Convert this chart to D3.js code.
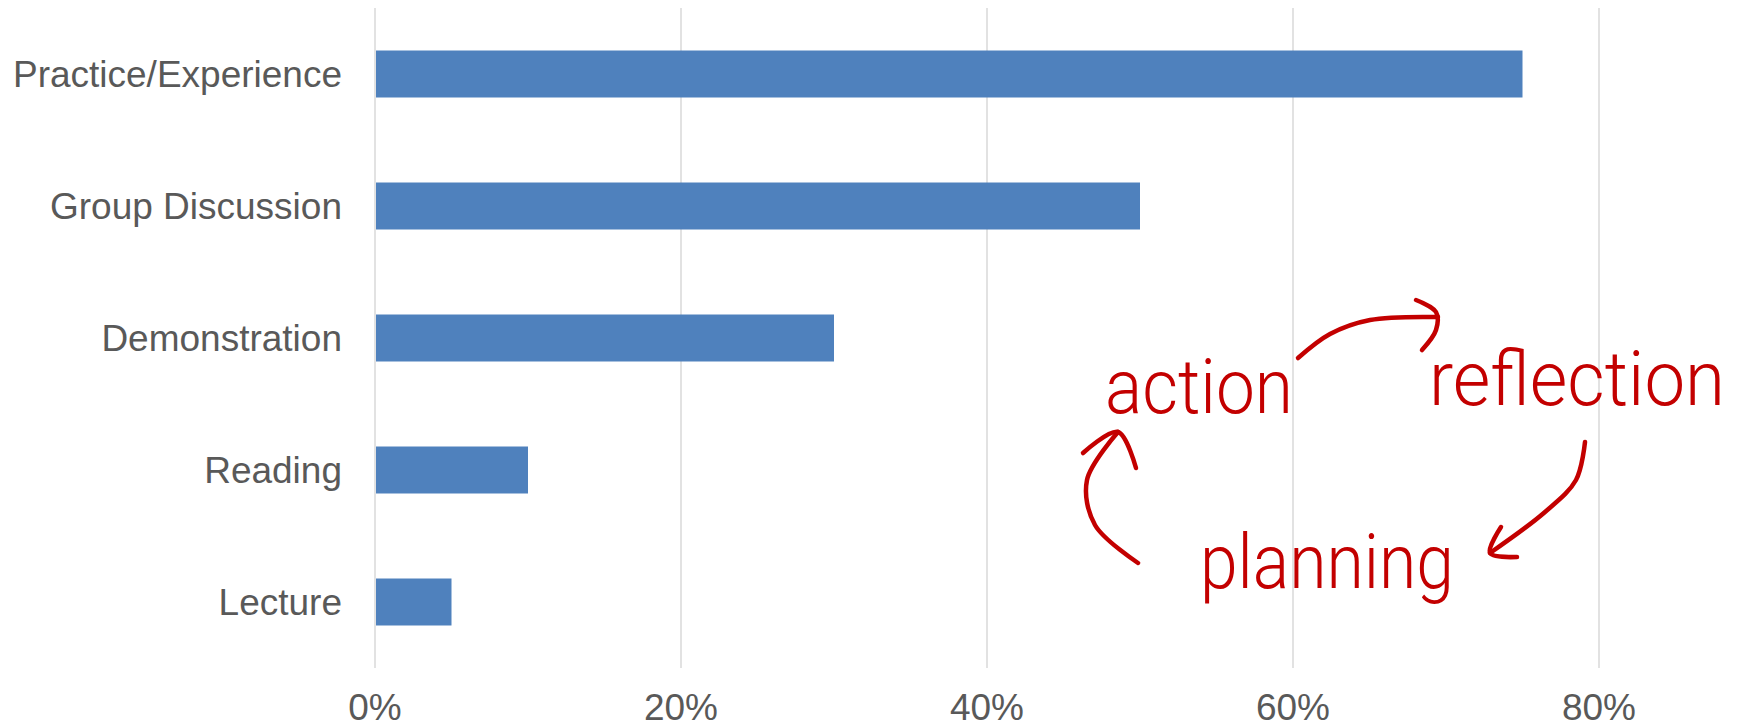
<!DOCTYPE html>
<html>
<head>
<meta charset="utf-8">
<script src="https://cdn.jsdelivr.net/npm/d3@7"></script>
<style>
  html, body { margin: 0; padding: 0; background: #ffffff; }
  svg { display: block; }
</style>
</head>
<body>
<svg id="chart" width="1740" height="728"></svg>
<script>
// ---- data ----
const categories = ["Practice/Experience", "Group Discussion", "Demonstration", "Reading", "Lecture"];
const values = [0.75, 0.50, 0.30, 0.10, 0.05];
const tickValues = [0, 0.2, 0.4, 0.6, 0.8];
const tickLabels = ["0%", "20%", "40%", "60%", "80%"];
const annotationWords = ["action", "reflection", "planning"];

// ---- layout ----
const svg = d3.select("#chart");
const x = d3.scaleLinear().domain([0, 0.8]).range([375, 1599]);
const y = d3.scaleBand().domain(categories).range([8, 668]).paddingInner(0.644).paddingOuter(0.322);

const textColor = "#595959";
const font = "'Liberation Sans', Arial, sans-serif";

// gridlines
svg.append("g").selectAll("line").data(tickValues).join("line")
  .attr("x1", d => x(d)).attr("x2", d => x(d))
  .attr("y1", 8).attr("y2", 668)
  .attr("stroke", "#d9d9d9").attr("stroke-width", 1.5);

// bars
svg.append("g").selectAll("rect").data(categories).join("rect")
  .attr("x", x(0) + 1)
  .attr("y", d => y(d))
  .attr("width", (d, i) => x(values[i]) - x(0) - 1)
  .attr("height", y.bandwidth())
  .attr("fill", "#4f81bd");

// category labels
svg.append("g").selectAll("text").data(categories).join("text")
  .attr("x", 342)
  .attr("y", d => y(d) + y.bandwidth() / 2)
  .attr("dy", "0.35em")
  .attr("text-anchor", "end")
  .attr("font-family", font)
  .attr("font-size", 37)
  .attr("fill", textColor)
  .text(d => d);

// x tick labels
svg.append("g").selectAll("text").data(tickValues).join("text")
  .attr("x", d => x(d))
  .attr("y", 720)
  .attr("text-anchor", "middle")
  .attr("font-family", font)
  .attr("font-size", 37)
  .attr("fill", textColor)
  .text((d, i) => tickLabels[i]);

// ---- handwritten annotation ----
const red = "#c30000";
const ann = svg.append("g").attr("class", "annotation");
const wordPos = [
  { x: 1105, y: 413, len: 188 },
  { x: 1429, y: 405, len: 296 },
  { x: 1200, y: 588, len: 254 }
];
ann.selectAll("text").data(annotationWords).join("text")
  .attr("x", (d, i) => wordPos[i].x)
  .attr("y", (d, i) => wordPos[i].y)
  .attr("textLength", (d, i) => wordPos[i].len)
  .attr("lengthAdjust", "spacingAndGlyphs")
  .attr("font-family", "Roboto, 'Open Sans', sans-serif")
  .attr("font-weight", 300)
  .attr("font-size", 76)
  .attr("fill", red)
  .text(d => d);

const arrows = [
  { body: [[1298, 358], [1330, 334], [1370, 320], [1438, 317]],
    head: [[1416, 300], [1436, 312], [1436, 330], [1422, 350]] },
  { body: [[1585, 442], [1576, 480], [1545, 512], [1490, 553]],
    head: [[1501, 527], [1490, 553], [1517, 557]] },
  { body: [[1138, 563], [1095, 525], [1087, 480], [1118, 432]],
    head: [[1083, 453], [1118, 432], [1136, 468]] }
];
const line = d3.line().curve(d3.curveCatmullRom.alpha(0.5));
arrows.forEach(a => {
  ann.append("path").attr("d", line(a.body))
    .attr("fill", "none").attr("stroke", red).attr("stroke-width", 4.5)
    .attr("stroke-linecap", "round").attr("stroke-linejoin", "round");
  ann.append("path").attr("d", line(a.head))
    .attr("fill", "none").attr("stroke", red).attr("stroke-width", 4.5)
    .attr("stroke-linecap", "round").attr("stroke-linejoin", "round");
});
</script>
</body>
</html>
